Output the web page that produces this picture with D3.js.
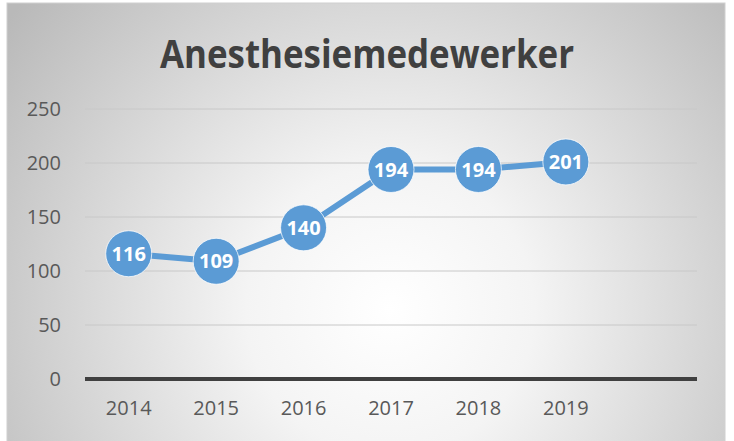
<!DOCTYPE html>
<html>
<head>
<meta charset="utf-8">
<script src="https://cdn.jsdelivr.net/npm/d3@7"></script>
<style>
  body { margin: 0; background: #fff; }
  svg { display: block; }
</style>
</head>
<body>
<div id="chart"></div>
<script>
const TITLE      = "Anesthesiemedewerker";
const years      = ["2014", "2015", "2016", "2017", "2018", "2019"];
const values     = [116, 109, 140, 194, 194, 201];
const yTicks     = [0, 50, 100, 150, 200, 250];

const WIDTH  = 734;
const HEIGHT = 441;
const MARGIN = { top: 109, right: 37, bottom: 62, left: 85 };
const FONT   = "'Open Sans', sans-serif";

const svg = d3.select("#chart").append("svg")
    .attr("width", WIDTH)
    .attr("height", HEIGHT);

// radial background like the Excel chart area
const grad = svg.append("defs").append("radialGradient")
    .attr("id", "bg")
    .attr("gradientUnits", "userSpaceOnUse")
    .attr("cx", 390).attr("cy", 310).attr("r", 480);
grad.append("stop").attr("offset", "0").attr("stop-color", "#ffffff");
grad.append("stop").attr("offset", "0.3").attr("stop-color", "#f4f4f4");
grad.append("stop").attr("offset", "1").attr("stop-color", "#b9b9b9");

svg.append("rect")
    .attr("x", 7).attr("y", 3)
    .attr("width", 718).attr("height", HEIGHT)
    .attr("fill", "url(#bg)")
    .attr("stroke", "#d0d0d0")
    .attr("stroke-width", 1);

// title (Calibri-like: squeeze a bigger font to the same width)
svg.append("text")
    .attr("x", 367).attr("y", 68)
    .attr("text-anchor", "middle")
    .attr("font-family", FONT)
    .attr("font-weight", "bold")
    .attr("font-size", 39)
    .attr("fill", "#404040")
    .attr("textLength", 414)
    .attr("lengthAdjust", "spacingAndGlyphs")
    .text(TITLE);

// scales: one empty slot after 2019, as in the original
const x = d3.scaleBand()
    .domain(years.concat([""]))
    .range([MARGIN.left, WIDTH - MARGIN.right])
    .padding(0);

const y = d3.scaleLinear()
    .domain([0, 250])
    .range([HEIGHT - MARGIN.bottom, MARGIN.top]);

// gridlines
svg.append("g")
    .selectAll("line")
    .data(yTicks.filter(d => d > 0))
    .join("line")
    .attr("x1", MARGIN.left).attr("x2", WIDTH - MARGIN.right)
    .attr("y1", d => y(d)).attr("y2", d => y(d))
    .attr("stroke", "#c8c8c8")
    .attr("stroke-width", 1);

// y axis labels
const yAxis = svg.append("g")
    .attr("transform", `translate(${MARGIN.left},0)`)
    .call(d3.axisLeft(y).tickValues(yTicks).tickSize(0).tickPadding(24));
yAxis.select(".domain").remove();
yAxis.selectAll("text")
    .attr("font-family", FONT)
    .attr("font-size", 20)
    .attr("fill", "#595959");

// baseline
svg.append("line")
    .attr("x1", MARGIN.left).attr("x2", WIDTH - MARGIN.right)
    .attr("y1", y(0)).attr("y2", y(0))
    .attr("stroke", "#404040")
    .attr("stroke-width", 4);

// x axis labels
const xAxis = svg.append("g")
    .attr("transform", `translate(0,${y(0)})`)
    .call(d3.axisBottom(x).tickValues(years).tickSize(0).tickPadding(22));
xAxis.select(".domain").remove();
xAxis.selectAll("text")
    .attr("font-family", FONT)
    .attr("font-size", 20)
    .attr("fill", "#595959");

const cx = d => x(d) + x.bandwidth() / 2;

// line
const line = d3.line()
    .x((d, i) => cx(years[i]))
    .y(d => y(d));

svg.append("path")
    .datum(values)
    .attr("fill", "none")
    .attr("stroke", "#5b9bd5")
    .attr("stroke-width", 6)
    .attr("stroke-linejoin", "round")
    .attr("d", line);

// markers
const pts = svg.append("g")
    .selectAll("g")
    .data(values)
    .join("g")
    .attr("transform", (d, i) => `translate(${cx(years[i])},${y(d)})`);

pts.append("circle")
    .attr("r", 23)
    .attr("fill", "#5b9bd5")
    .attr("stroke", "#ffffff")
    .attr("stroke-width", 0.75);

pts.append("text")
    .attr("text-anchor", "middle")
    .attr("dy", "0.36em")
    .attr("font-family", FONT)
    .attr("font-weight", "bold")
    .attr("font-size", 20)
    .attr("fill", "#ffffff")
    .text(d => d);
</script>
</body>
</html>
